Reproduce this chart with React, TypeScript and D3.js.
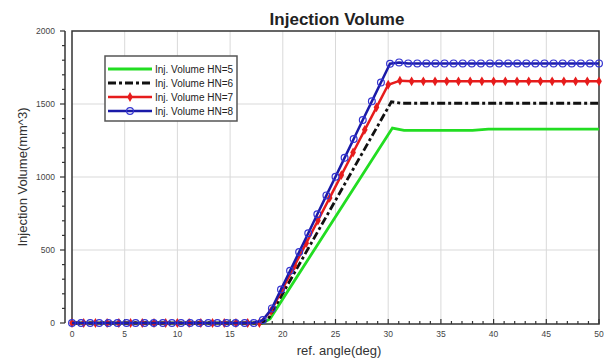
import React from "react";
import * as d3 from "d3";

// ---- data ----
const xTicks = [0, 5, 10, 15, 20, 25, 30, 35, 40, 45, 50];
const yTicks = [0, 500, 1000, 1500, 2000];
const seriesNames = ["Inj. Volume HN=5", "Inj. Volume HN=6", "Inj. Volume HN=7", "Inj. Volume HN=8"];

// HN=5 (line only) breakpoints
const hn5Angles = [0, 18.1, 18.8, 30.4, 31.5, 38, 39.5, 50];
const hn5Values = [0, 0, 30, 1335, 1320, 1320, 1328, 1328];

// HN=6 (dash-dot line) breakpoints
const hn6Angles = [0, 18.0, 18.6, 30.3, 31.2, 50];
const hn6Values = [0, 0, 25, 1515, 1505, 1505];

// HN=7 (red, diamond markers) samples
const hn7Angles = d3.range(0, 46).map((i) => (i * 50) / 45);
const hn7Values = [
  0, 0, 0, 0, 0, 0, 0, 0, 0, 0, 0, 0, 0, 0, 0, 0, 0,
  82, 237, 392, 547, 702, 857, 1013, 1168, 1323, 1477, 1632,
  1660,
  1655, 1655, 1655, 1655, 1655, 1655, 1655, 1655, 1655, 1655, 1655, 1655, 1655, 1655, 1655, 1655, 1655,
];

// HN=8 (blue, circle markers) samples
const hn8Angles = d3.range(0, 59).map((i) => (i * 50) / 58);
const hn8Values = [
  0, 0, 0, 0, 0, 0, 0, 0, 0, 0, 0, 0, 0, 0, 0, 0, 0, 0, 0, 0, 0,
  20, 100, 229, 358, 486, 615, 745, 874, 1002, 1131, 1260, 1390, 1518, 1647, 1776,
  1785,
  1778, 1778, 1778, 1778, 1778, 1778, 1778, 1778, 1778, 1778, 1778, 1778, 1778, 1778, 1778, 1778, 1778, 1778, 1778, 1778, 1778, 1778,
];

const W = 611;
const H = 364;
const L = 72, R = 599, T = 31, B = 323;

export default function App() {
  const x = d3.scaleLinear().domain([0, 50]).range([L, R]);
  const y = d3.scaleLinear().domain([0, 2000]).range([B, T]);
  const line = d3
    .line<[number, number]>()
    .x((d) => x(d[0]))
    .y((d) => y(d[1]));
  const zip = (a: number[], b: number[]) => a.map((v, i) => [v, b[i]] as [number, number]);

  const green = "#22dd22";
  const red = "#e61c1c";
  const blue = "#1a1aa8";
  const font = "'Liberation Sans', Arial, sans-serif";
  const diamond = d3.symbol().type(d3.symbolDiamond).size(28)() as string;

  const xMinor = d3.range(0, 51, 1);
  const yMinor = d3.range(0, 2001, 100);

  const legendY = [69, 83, 97, 111];

  return (
    <svg width={W} height={H} style={{ position: "absolute", left: 0, top: 0, background: "#fff" }} fontFamily={font}>
      {/* title */}
      <text x={337} y={25} textAnchor="middle" fontSize={17} fontWeight="bold" fill="#222">
        Injection Volume
      </text>

      {/* grid */}
      {xTicks.slice(1, -1).map((t) => (
        <line key={"gx" + t} x1={x(t)} x2={x(t)} y1={T} y2={B} stroke="#d9d9d9" strokeWidth={1} />
      ))}
      {yTicks.slice(1, -1).map((t) => (
        <line key={"gy" + t} x1={L} x2={R} y1={y(t)} y2={y(t)} stroke="#d9d9d9" strokeWidth={1} />
      ))}

      {/* frame */}
      <rect x={L} y={T} width={R - L} height={B + 1 - T} fill="none" stroke="#333" strokeWidth={1.5} />

      {/* y axis (offset) */}
      <line x1={65} x2={65} y1={T} y2={B} stroke="#333" strokeWidth={1.5} />
      {yMinor.map((t) => (
        <line key={"ym" + t} x1={t % 500 === 0 ? 60 : 62} x2={65} y1={y(t)} y2={y(t)} stroke="#333" strokeWidth={1.2} />
      ))}
      {yTicks.map((t) => (
        <text key={"yl" + t} x={55} y={y(t)} dy="0.35em" textAnchor="end" fontSize={8.5} fill="#444">
          {t}
        </text>
      ))}

      {/* x axis ticks */}
      {xMinor.map((t) => (
        <line key={"xm" + t} x1={x(t)} x2={x(t)} y1={B + 1} y2={B + 1 - (t % 5 === 0 ? 5 : 3)} stroke="#333" strokeWidth={1.2} />
      ))}
      {xTicks.map((t) => (
        <text key={"xl" + t} x={x(t)} y={337} textAnchor="middle" fontSize={8.5} fill="#444">
          {t}
        </text>
      ))}

      {/* axis titles */}
      <text x={339} y={355} textAnchor="middle" fontSize={13} fill="#333">
        ref. angle(deg)
      </text>
      <text transform={`translate(27,${(T + B) / 2}) rotate(-90)`} textAnchor="middle" fontSize={13} fill="#333">
        Injection Volume(mm^3)
      </text>

      {/* series */}
      <path d={line(zip(hn5Angles, hn5Values)) || ""} fill="none" stroke={green} strokeWidth={2.8} />
      <path d={line(zip(hn6Angles, hn6Values)) || ""} fill="none" stroke="#111" strokeWidth={2.8} strokeDasharray="8,3,3,3" />
      <path d={line(zip(hn7Angles, hn7Values)) || ""} fill="none" stroke={red} strokeWidth={2.5} />
      {zip(hn7Angles, hn7Values).map((d, i) => (
        <path key={"r" + i} d={diamond} transform={`translate(${x(d[0])},${y(d[1])})`} fill={red} />
      ))}
      <path d={line(zip(hn8Angles, hn8Values)) || ""} fill="none" stroke={blue} strokeWidth={2.5} />
      {zip(hn8Angles, hn8Values).map((d, i) => (
        <circle key={"b" + i} cx={x(d[0])} cy={y(d[1])} r={3.4} fill="none" stroke="#3434d0" strokeWidth={1.2} />
      ))}

      {/* legend */}
      <rect x={105} y={56} width={132} height={65} fill="#fff" stroke="#555" strokeWidth={1.5} />
      <line x1={108} x2={152} y1={legendY[0]} y2={legendY[0]} stroke={green} strokeWidth={2.8} />
      <line x1={108} x2={152} y1={legendY[1]} y2={legendY[1]} stroke="#111" strokeWidth={2.8} strokeDasharray="8,3,3,3" />
      <line x1={108} x2={152} y1={legendY[2]} y2={legendY[2]} stroke={red} strokeWidth={2.5} />
      <path d={diamond} transform={`translate(130,${legendY[2]})`} fill={red} />
      <line x1={108} x2={152} y1={legendY[3]} y2={legendY[3]} stroke={blue} strokeWidth={2.5} />
      <circle cx={130} cy={legendY[3]} r={3.4} fill="none" stroke="#3434d0" strokeWidth={1.2} />
      {seriesNames.map((n, i) => (
        <text key={n} x={155} y={legendY[i]} dy="0.35em" fontSize={10} fill="#222">
          {n}
        </text>
      ))}
    </svg>
  );
}
